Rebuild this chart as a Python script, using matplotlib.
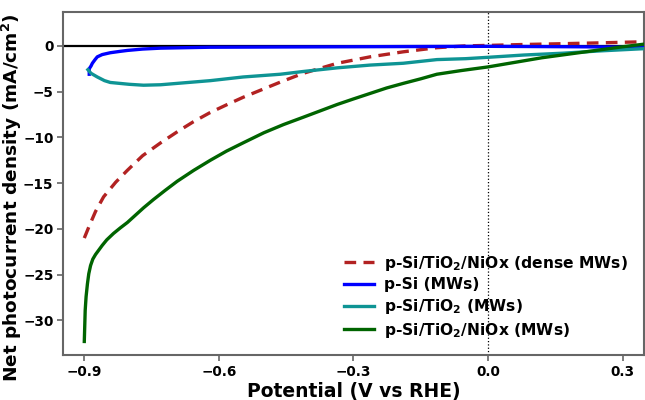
import matplotlib
matplotlib.use("Agg")
import matplotlib.pyplot as plt
import numpy as np

# Data (V vs RHE, mA/cm^2)
dense_x = [-0.900, -0.890, -0.875, -0.857, -0.830, -0.804, -0.770, -0.730, -0.690, -0.657,
           -0.620, -0.581, -0.545, -0.500, -0.460, -0.412, -0.336, -0.263, -0.189, -0.114,
           -0.050, 0.000, 0.080, 0.150, 0.250, 0.350]
dense_y = [-21.0, -19.8, -18.1, -16.5, -14.9, -13.6, -12.0, -10.6, -9.3, -8.3,
           -7.3, -6.4, -5.6, -4.7, -3.9, -3.0, -1.9, -1.2, -0.65, -0.2,
           0.0, 0.05, 0.15, 0.22, 0.33, 0.45]

psi_x = [-0.889, -0.889, -0.885, -0.882, -0.876, -0.871, -0.860, -0.842, -0.820, -0.804,
         -0.770, -0.730, -0.620, -0.450, -0.200, 0.000, 0.200, 0.350]
psi_y = [-3.1, -2.5, -2.2, -1.9, -1.5, -1.2, -0.95, -0.75, -0.6, -0.5,
         -0.35, -0.25, -0.15, -0.12, -0.08, -0.05, -0.1, -0.15]

tio2_x = [-0.892, -0.885, -0.871, -0.855, -0.842, -0.800, -0.768, -0.730, -0.693, -0.619,
          -0.546, -0.463, -0.412, -0.336, -0.263, -0.189, -0.114, -0.050, 0.000, 0.080,
          0.167, 0.250, 0.350]
tio2_y = [-2.6, -3.0, -3.4, -3.8, -4.0, -4.2, -4.3, -4.25, -4.1, -3.8,
          -3.4, -3.1, -2.8, -2.4, -2.1, -1.9, -1.5, -1.4, -1.25, -1.0,
          -0.8, -0.55, -0.3]

nio_x = [-0.900, -0.899, -0.898, -0.896, -0.893, -0.890, -0.886, -0.881, -0.875, -0.869,
         -0.860, -0.850, -0.835, -0.820, -0.804, -0.786, -0.768, -0.746, -0.720, -0.693,
         -0.656, -0.619, -0.583, -0.546, -0.500, -0.456, -0.412, -0.374, -0.336, -0.300,
         -0.263, -0.226, -0.189, -0.150, -0.114, -0.060, 0.000, 0.060, 0.120, 0.180,
         0.240, 0.300, 0.350]
nio_y = [-32.3, -30.6, -28.9, -27.4, -26.0, -24.9, -24.0, -23.3, -22.8, -22.4,
         -21.8, -21.2, -20.5, -19.9, -19.3, -18.5, -17.7, -16.8, -15.8, -14.8,
         -13.6, -12.5, -11.5, -10.6, -9.5, -8.6, -7.8, -7.1, -6.4, -5.8,
         -5.2, -4.6, -4.1, -3.6, -3.1, -2.7, -2.3, -1.8, -1.3, -0.9,
         -0.5, -0.1, 0.2]

labels = ["p-Si/TiO$_\\mathbf{2}$/NiOx (dense MWs)", "p-Si (MWs)",
          "p-Si/TiO$_\\mathbf{2}$ (MWs)", "p-Si/TiO$_\\mathbf{2}$/NiOx (MWs)"]
xticks = [-0.9, -0.6, -0.3, 0.0, 0.3]
yticks = [0, -5, -10, -15, -20, -25, -30]

plt.rcParams['font.family'] = ['DejaVu Sans']
plt.rcParams['font.weight'] = 'bold'
plt.rcParams['mathtext.default'] = 'bf'

fig = plt.figure(figsize=(6.45, 4.0), dpi=100)
ax = fig.add_axes([0.098, 0.112, 0.900, 0.858])

ax.axhline(0, color='black', lw=1.6, zorder=1)
ax.axvline(0, color='black', lw=0.9, ls=':', zorder=1)

ax.plot(dense_x, dense_y, color='#b22222', lw=2.4, ls=(0, (3.5, 2.2)), label=labels[0], zorder=3)
ax.plot(psi_x, psi_y, color='blue', lw=2.4, label=labels[1], zorder=3)
ax.plot(tio2_x, tio2_y, color='#0e9494', lw=2.4, label=labels[2], zorder=3)
ax.plot(nio_x, nio_y, color='#006400', lw=2.4, label=labels[3], zorder=4)

ax.set_xlim(-0.947, 0.347)
ax.set_ylim(-33.8, 3.7)
ax.set_xticks(xticks)
ax.set_xticklabels([f"{t:.1f}".replace("-", "\u2212") for t in xticks])
ax.set_yticks(yticks)
ax.set_yticklabels([f"{t}".replace("-", "\u2212") for t in yticks])

for s in ax.spines.values():
    s.set_color('#666666')
    s.set_linewidth(1.5)
ax.tick_params(axis='both', colors='#666666', labelcolor='black', length=4, width=1.2,
               labelsize=9.8, pad=3)
for lab in ax.get_xticklabels() + ax.get_yticklabels():
    lab.set_fontweight('bold')

ax.set_xlabel("Potential (V vs RHE)", fontsize=13.5, fontweight='bold', labelpad=2)
ax.set_ylabel("Net photocurrent density (mA/cm$^\\mathbf{2}$)", fontsize=13.3,
              fontweight='bold')
ax.yaxis.set_label_coords(-0.067, 0.46)

leg = ax.legend(loc='lower right', frameon=False, prop={'weight': 'bold', 'size': 11.2},
                handlelength=1.9, handletextpad=0.7, borderaxespad=0.6, labelspacing=0.3)

fig.savefig("out.png", dpi=100)
